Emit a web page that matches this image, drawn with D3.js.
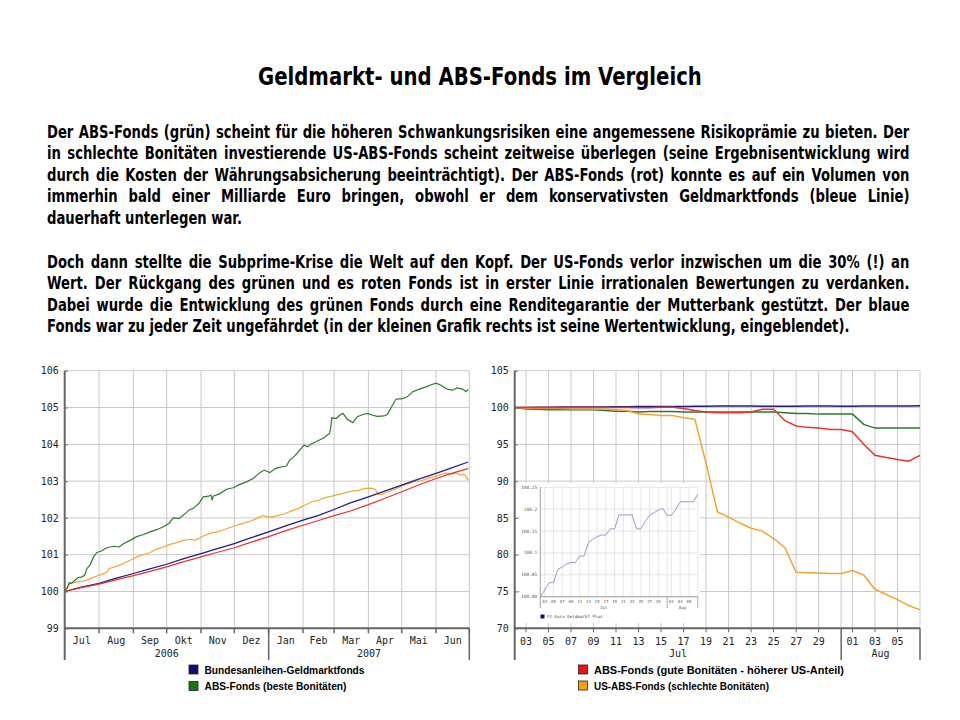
<!DOCTYPE html>
<html><head><meta charset="utf-8">
<script src="https://cdn.jsdelivr.net/npm/d3@7"></script>
<style>
body{margin:0;background:#fff;}
#wrap{position:relative;width:960px;height:720px;overflow:hidden;background:#fff;}
svg{position:absolute;left:0;top:0;}
</style></head><body><div id="wrap"></div>
<script>
// ---------------- DATA ----------------
const titleText = "Geldmarkt- und ABS-Fonds im Vergleich";
const para1 = [
"Der ABS-Fonds (grün) scheint für die höheren Schwankungsrisiken eine angemessene Risikoprämie zu bieten. Der",
"in schlechte Bonitäten investierende US-ABS-Fonds scheint zeitweise überlegen (seine Ergebnisentwicklung wird",
"durch die Kosten der Währungsabsicherung beeinträchtigt). Der ABS-Fonds (rot) konnte es auf ein Volumen von",
"immerhin bald einer Milliarde Euro bringen, obwohl er dem konservativsten Geldmarktfonds (bleue Linie)",
"dauerhaft unterlegen war."];
const para2 = [
"Doch dann stellte die Subprime-Krise die Welt auf den Kopf. Der US-Fonds verlor inzwischen um die 30% (!) an",
"Wert. Der Rückgang des grünen und es roten Fonds ist in erster Linie irrationalen Bewertungen zu verdanken.",
"Dabei wurde die Entwicklung des grünen Fonds durch eine Renditegarantie der Mutterbank gestützt. Der blaue",
"Fonds war zu jeder Zeit ungefährdet (in der kleinen Grafik rechts ist seine Wertentwicklung, eingeblendet)."];

const leftYTicks = [99,100,101,102,103,104,105,106];
const leftMonthLabels = ["Jul","Aug","Sep","Okt","Nov","Dez","Jan","Feb","Mar","Apr","Mai","Jun"];
const leftYearLabels = ["2006","2007"];

const leftBlue = [["2006-07-01",100.00],["2006-07-15",100.11],["2006-08-01",100.22],["2006-08-15",100.35],["2006-09-01",100.49],["2006-09-15",100.61],["2006-10-01",100.74],["2006-10-15",100.88],["2006-11-01",101.03],["2006-11-15",101.16],["2006-12-01",101.30],["2006-12-15",101.45],["2007-01-01",101.62],["2007-01-15",101.77],["2007-02-01",101.94],["2007-02-15",102.07],["2007-03-01",102.23],["2007-03-15",102.40],["2007-04-01",102.57],["2007-04-15",102.72],["2007-05-01",102.89],["2007-05-15",103.04],["2007-06-01",103.21],["2007-06-15",103.36],["2007-06-30",103.52]];
const leftRed = [["2006-07-01",100.00],["2006-07-15",100.10],["2006-08-01",100.20],["2006-08-15",100.31],["2006-09-01",100.43],["2006-09-15",100.54],["2006-10-01",100.67],["2006-10-15",100.80],["2006-11-01",100.94],["2006-11-15",101.06],["2006-12-01",101.19],["2006-12-15",101.33],["2007-01-01",101.49],["2007-01-15",101.64],["2007-02-01",101.80],["2007-02-15",101.93],["2007-03-01",102.06],["2007-03-15",102.18],["2007-04-01",102.36],["2007-04-15",102.52],["2007-05-01",102.71],["2007-05-15",102.88],["2007-06-01",103.07],["2007-06-15",103.21],["2007-06-30",103.34]];
const leftGreen = [["2006-07-01",100.00],["2006-07-03",100.08],["2006-07-05",100.24],["2006-07-07",100.22],["2006-07-10",100.30],["2006-07-13",100.38],["2006-07-16",100.39],["2006-07-19",100.44],["2006-07-21",100.62],["2006-07-24",100.73],["2006-07-27",100.94],["2006-07-30",101.06],["2006-08-03",101.10],["2006-08-08",101.19],["2006-08-14",101.23],["2006-08-19",101.21],["2006-08-23",101.30],["2006-08-29",101.39],["2006-09-04",101.49],["2006-09-10",101.55],["2006-09-16",101.62],["2006-09-22",101.68],["2006-09-28",101.76],["2006-10-03",101.85],["2006-10-07",102.00],["2006-10-12",101.98],["2006-10-16",102.07],["2006-10-21",102.21],["2006-10-25",102.26],["2006-10-30",102.39],["2006-11-03",102.57],["2006-11-08",102.59],["2006-11-10",102.62],["2006-11-11",102.48],["2006-11-12",102.59],["2006-11-18",102.66],["2006-11-24",102.78],["2006-11-30",102.82],["2006-12-06",102.91],["2006-12-12",102.98],["2006-12-18",103.07],["2006-12-24",103.23],["2006-12-28",103.30],["2007-01-02",103.23],["2007-01-07",103.34],["2007-01-13",103.39],["2007-01-17",103.41],["2007-01-20",103.57],["2007-01-25",103.70],["2007-01-29",103.84],["2007-02-02",103.98],["2007-02-05",103.93],["2007-02-08",104.00],["2007-02-14",104.09],["2007-02-20",104.18],["2007-02-25",104.30],["2007-02-26",104.45],["2007-02-27",104.72],["2007-03-03",104.70],["2007-03-06",104.79],["2007-03-09",104.84],["2007-03-13",104.68],["2007-03-18",104.59],["2007-03-22",104.75],["2007-03-27",104.81],["2007-03-31",104.84],["2007-04-05",104.79],["2007-04-09",104.76],["2007-04-15",104.77],["2007-04-18",104.81],["2007-04-23",105.08],["2007-04-26",105.23],["2007-05-02",105.24],["2007-05-06",105.29],["2007-05-11",105.43],["2007-05-17",105.50],["2007-05-23",105.56],["2007-05-27",105.61],["2007-06-01",105.66],["2007-06-05",105.61],["2007-06-11",105.50],["2007-06-16",105.47],["2007-06-20",105.53],["2007-06-25",105.50],["2007-06-28",105.43],["2007-06-30",105.49]];
const leftOrange = [["2006-07-01",100.00],["2006-07-06",100.22],["2006-07-12",100.26],["2006-07-18",100.28],["2006-07-24",100.35],["2006-07-30",100.42],["2006-08-03",100.46],["2006-08-08",100.53],["2006-08-10",100.62],["2006-08-17",100.69],["2006-08-23",100.76],["2006-08-29",100.85],["2006-09-04",100.94],["2006-09-10",101.00],["2006-09-16",101.06],["2006-09-22",101.15],["2006-09-28",101.21],["2006-10-04",101.28],["2006-10-10",101.33],["2006-10-16",101.39],["2006-10-23",101.42],["2006-10-27",101.39],["2006-11-03",101.51],["2006-11-09",101.58],["2006-11-15",101.62],["2006-11-21",101.67],["2006-11-27",101.74],["2006-12-03",101.80],["2006-12-09",101.85],["2006-12-15",101.91],["2006-12-21",101.98],["2006-12-27",102.07],["2006-12-31",102.03],["2007-01-05",102.03],["2007-01-10",102.07],["2007-01-16",102.12],["2007-01-22",102.19],["2007-01-28",102.26],["2007-02-03",102.35],["2007-02-09",102.44],["2007-02-15",102.48],["2007-02-21",102.55],["2007-02-27",102.59],["2007-03-05",102.64],["2007-03-11",102.68],["2007-03-17",102.73],["2007-03-23",102.75],["2007-03-29",102.80],["2007-04-03",102.81],["2007-04-07",102.78],["2007-04-10",102.64],["2007-04-13",102.64],["2007-04-19",102.71],["2007-04-25",102.78],["2007-05-01",102.87],["2007-05-07",102.93],["2007-05-13",102.99],["2007-05-19",103.01],["2007-05-25",103.08],["2007-05-31",103.13],["2007-06-06",103.18],["2007-06-10",103.22],["2007-06-14",103.18],["2007-06-19",103.22],["2007-06-23",103.16],["2007-06-26",103.19],["2007-06-28",103.14],["2007-06-30",103.02]];

const rightDates = ["2007-07-02","2007-07-03","2007-07-04","2007-07-05","2007-07-06","2007-07-07","2007-07-08","2007-07-09","2007-07-10","2007-07-11","2007-07-12","2007-07-13","2007-07-14","2007-07-15","2007-07-16","2007-07-17","2007-07-18","2007-07-19","2007-07-20","2007-07-21","2007-07-22","2007-07-23","2007-07-24","2007-07-25","2007-07-26","2007-07-27","2007-07-28","2007-07-29","2007-07-30","2007-07-31","2007-08-01","2007-08-02","2007-08-03","2007-08-04","2007-08-05","2007-08-06","2007-08-07"];
const rightBlue = [100.000,100.015,100.032,100.032,100.062,100.068,100.075,100.078,100.078,100.093,100.093,100.124,100.131,100.137,100.141,100.141,100.155,100.155,100.187,100.187,100.187,100.187,100.155,100.155,100.172,100.186,100.192,100.198,100.202,100.186,100.186,100.200,100.217,100.217,100.217,100.217,100.234];
const rightRed = [100.0,100.0,100.0,100.0,100.0,100.0,100.0,100.0,100.0,100.0,100.0,99.95,99.95,100.05,100.05,99.85,99.6,99.4,99.3,99.3,99.3,99.4,99.75,99.75,98.2,97.5,97.3,97.2,97.0,97.0,96.7,95.0,93.5,93.2,92.95,92.7,93.5];
const rightGreen = [100.0,99.8,99.75,99.7,99.7,99.7,99.7,99.7,99.6,99.5,99.5,99.4,99.45,99.45,99.45,99.4,99.4,99.4,99.4,99.4,99.4,99.4,99.4,99.4,99.3,99.2,99.2,99.1,99.1,99.1,99.1,97.7,97.2,97.2,97.2,97.2,97.2];
const rightOrange = [100.0,99.9,99.9,99.85,99.85,99.8,99.8,99.8,99.75,99.7,99.6,99.1,99.05,98.9,98.9,98.6,98.4,92.4,85.85,85.1,84.3,83.6,83.2,82.2,80.96,77.6,77.55,77.5,77.45,77.45,77.84,77.25,75.3,74.6,73.9,73.1,72.5];
const rightYTicks = [70,75,80,85,90,95,100,105];
const rightTickDates = ["2007-07-03","2007-07-05","2007-07-07","2007-07-09","2007-07-11","2007-07-13","2007-07-15","2007-07-17","2007-07-19","2007-07-21","2007-07-23","2007-07-25","2007-07-27","2007-07-29","2007-08-01","2007-08-03","2007-08-05"];
const rightTickLabels = ["03","05","07","09","11","13","15","17","19","21","23","25","27","29","01","03","05"];
const rightMonthLabels = ["Jul","Aug"];
const insetYTicks = [100.00,100.05,100.10,100.15,100.20,100.25];
const insetYLabels = ["100.00","100.05","100.1","100.15","100.2","100.25"];
const insetLegend = "FI Euro Geldmarkt Plus";

const legendLeft = [["Bundesanleihen-Geldmarktfonds","#0c0c78",160],["ABS-Fonds (beste Bonitäten)","#0f7a0f",142]];
const legendRight = [["ABS-Fonds (gute Bonitäten - höherer US-Anteil)","#ee1111",250],["US-ABS-Fonds (schlechte Bonitäten)","#ffa200",175]];

// colors
const C = {blue:"#1e1e82", green:"#2b7a2b", red:"#ee3030", orange:"#f3a530", grid:"#c9c9c9", axis:"#666"};

// ---------------- DRAW ----------------
const parse = d3.timeParse("%Y-%m-%d");
const svg = d3.select("#wrap").append("svg").attr("width",960).attr("height",720);

// ---- text ----
const TF = "DejaVu Sans";
const t = svg.append("text").attr("font-family",TF).attr("font-weight","bold").attr("font-size",25).text(titleText);
const tw = t.node().getComputedTextLength();
const ts = 444/tw;
t.attr("transform",`translate(258,84.5) scale(${ts},1)`);

const FS = 18;
function mk(str){ return svg.append("text").attr("font-family",TF).attr("font-weight","bold").attr("font-size",FS).attr("fill","#000").text(str); }
const probe = mk(para2[3]);
const sc = 803/probe.node().getComputedTextLength();
probe.remove();
function drawPara(lines, base0){
  lines.forEach((str,i)=>{
    const el = mk(str);
    const nat = el.node().getComputedTextLength();
    const last = i===lines.length-1;
    if(!last){
      const n = (str.match(/ /g)||[]).length;
      const ws = (863/sc - nat)/n;
      el.style("word-spacing", ws+"px");
    }
    el.attr("transform",`translate(47,${base0+i*21.6}) scale(${sc},1)`);
  });
}
drawPara(para1, 137.5);
drawPara(para2, 267.5);

// ---- left chart ----
const L = {x0:64.7, x1:469.3, y0:370.7, y1:628.3, yb:660};
const xL = d3.scaleTime().domain([new Date(2006,6,1), new Date(2007,6,1)]).range([L.x0,L.x1]);
const yL = d3.scaleLinear().domain([99,106]).range([L.y1,L.y0]);
const gL = svg.append("g");
const monthsL = d3.timeMonth.range(new Date(2006,6,1), new Date(2007,6,2));
gL.selectAll("line.hg").data(leftYTicks).join("line").attr("class","hg")
  .attr("x1",L.x0).attr("x2",L.x1).attr("y1",d=>yL(d)).attr("y2",d=>yL(d)).attr("stroke",C.grid);
gL.selectAll("line.vg").data(monthsL.slice(1)).join("line").attr("class","vg")
  .attr("x1",d=>xL(d)).attr("x2",d=>xL(d)).attr("y1",L.y0).attr("y2",L.y1).attr("stroke",C.grid);
gL.selectAll("line.tk").data(monthsL.slice(1)).join("line").attr("class","tk")
  .attr("x1",d=>xL(d)).attr("x2",d=>xL(d)).attr("y1",L.y1).attr("y2",L.y1+5).attr("stroke",C.axis).attr("stroke-width",1.5);
[new Date(2007,0,1), new Date(2007,6,1)].forEach(d=>{
  gL.append("line").attr("x1",xL(d)).attr("x2",xL(d)).attr("y1",L.y1).attr("y2",L.yb).attr("stroke",C.axis).attr("stroke-width",1.5);
});
const lineL = d3.line().x(d=>xL(parse(d[0]))).y(d=>yL(d[1]));
[[leftOrange,C.orange],[leftBlue,C.blue],[leftRed,C.red],[leftGreen,C.green]].forEach(([data,col])=>{
  gL.append("path").datum(data).attr("d",lineL).attr("fill","none").attr("stroke",col).attr("stroke-width",1.2);
});
gL.append("line").attr("x1",L.x0).attr("x2",L.x0).attr("y1",L.y0).attr("y2",L.yb).attr("stroke",C.axis).attr("stroke-width",2);
gL.append("line").attr("x1",L.x0).attr("x2",L.x1).attr("y1",L.y1).attr("y2",L.y1).attr("stroke",C.axis).attr("stroke-width",2);
const axL = gL.append("g").attr("transform",`translate(${L.x0},0)`)
  .call(d3.axisLeft(yL).tickValues(leftYTicks).tickSize(3).tickPadding(3).tickFormat(d3.format("d")));
axL.select(".domain").remove();
axL.selectAll(".tick line").attr("stroke",C.axis).attr("x2",3);
axL.selectAll("text").attr("font-family","DejaVu Sans Mono").attr("font-size",10).attr("fill","#222");
gL.selectAll("text.mon").data(monthsL.slice(0,12)).join("text").attr("class","mon")
  .attr("x",(d,i)=>(xL(d)+xL(monthsL[i+1]))/2).attr("y",644).attr("text-anchor","middle")
  .attr("font-family","DejaVu Sans Mono").attr("font-size",10).attr("fill","#222").text((d,i)=>leftMonthLabels[i]);
const yearsL = [[new Date(2006,6,1),new Date(2007,0,1)],[new Date(2007,0,1),new Date(2007,6,1)]];
gL.selectAll("text.yr").data(yearsL).join("text").attr("class","yr")
  .attr("x",d=>(xL(d[0])+xL(d[1]))/2).attr("y",657).attr("text-anchor","middle")
  .attr("font-family","DejaVu Sans Mono").attr("font-size",10).attr("fill","#222").text((d,i)=>leftYearLabels[i]);

// ---- right chart ----
const R = {x0:514.7, x1:920, y0:370.7, y1:628.3, yb:660};
const xR = d3.scaleTime().domain([parse(rightDates[0]), parse(rightDates[rightDates.length-1])]).range([R.x0,R.x1]);
const yR = d3.scaleLinear().domain([70,105]).range([R.y1,R.y0]);
const gR = svg.append("g");
const rTicks = rightTickDates.map(parse);
const sep = parse("2007-07-31");
gR.selectAll("line.hg").data(rightYTicks).join("line").attr("class","hg")
  .attr("x1",R.x0).attr("x2",R.x1).attr("y1",d=>yR(d)).attr("y2",d=>yR(d)).attr("stroke",C.grid);
gR.selectAll("line.vg").data(rTicks.concat([sep, xR.domain()[1]])).join("line").attr("class","vg")
  .attr("x1",d=>xR(d)).attr("x2",d=>xR(d)).attr("y1",R.y0).attr("y2",R.y1).attr("stroke",C.grid);
gR.selectAll("line.tk").data(rTicks).join("line").attr("class","tk")
  .attr("x1",d=>xR(d)).attr("x2",d=>xR(d)).attr("y1",R.y1).attr("y2",R.y1+4).attr("stroke",C.axis);
[sep, xR.domain()[1]].forEach(d=>{
  gR.append("line").attr("x1",xR(d)).attr("x2",xR(d)).attr("y1",R.y1).attr("y2",R.yb).attr("stroke",C.axis).attr("stroke-width",1.5);
});
const lineR = (vals)=>d3.line().x((d,i)=>xR(parse(rightDates[i]))).y(d=>yR(d))(vals);
[[rightBlue,C.blue],[rightGreen,C.green],[rightOrange,C.orange],[rightRed,C.red]].forEach(([vals,col])=>{
  gR.append("path").attr("d",lineR(vals)).attr("fill","none").attr("stroke",col).attr("stroke-width",1.5);
});
gR.append("line").attr("x1",R.x0).attr("x2",R.x0).attr("y1",R.y0).attr("y2",R.yb).attr("stroke",C.axis).attr("stroke-width",2);
gR.append("line").attr("x1",R.x0).attr("x2",R.x1).attr("y1",R.y1).attr("y2",R.y1).attr("stroke",C.axis).attr("stroke-width",2);
const axR = gR.append("g").attr("transform",`translate(${R.x0},0)`)
  .call(d3.axisLeft(yR).tickValues(rightYTicks).tickSize(3).tickPadding(3).tickFormat(d3.format("d")));
axR.select(".domain").remove();
axR.selectAll(".tick line").attr("stroke",C.axis).attr("x2",3);
axR.selectAll("text").attr("font-family","DejaVu Sans Mono").attr("font-size",10).attr("fill","#222");
gR.selectAll("text.day").data(rTicks).join("text").attr("class","day")
  .attr("x",d=>xR(d)).attr("y",645).attr("text-anchor","middle")
  .attr("font-family","DejaVu Sans Mono").attr("font-size",10).attr("fill","#222").text((d,i)=>rightTickLabels[i]);
const monthsR = [[xR.domain()[0],sep],[sep,xR.domain()[1]]];
gR.selectAll("text.mon").data(monthsR).join("text").attr("class","mon")
  .attr("x",d=>(xR(d[0])+xR(d[1]))/2).attr("y",657).attr("text-anchor","middle")
  .attr("font-family","DejaVu Sans Mono").attr("font-size",10).attr("fill","#222").text((d,i)=>rightMonthLabels[i]);

// ---- inset ----
const I = {bx0:520, bx1:700, by0:483, by1:623, x0:540.3, x1:697.7, y0:487.3, y1:596.7, yb:608};
const gI = svg.append("g");
gI.append("rect").attr("x",I.bx0).attr("y",I.by0).attr("width",I.bx1-I.bx0).attr("height",I.by1-I.by0).attr("fill","#fff");
const xI = d3.scaleTime().domain(xR.domain()).range([I.x0,I.x1]);
const yI = d3.scaleLinear().domain([100,100.25]).range([I.y1,I.y0]);
gI.selectAll("line.hg").data(insetYTicks).join("line").attr("class","hg")
  .attr("x1",I.x0).attr("x2",I.x1).attr("y1",d=>yI(d)).attr("y2",d=>yI(d)).attr("stroke","#dcdcdc").attr("stroke-width",0.7);
gI.selectAll("line.vg").data(rTicks.concat([sep, xI.domain()[1]])).join("line").attr("class","vg")
  .attr("x1",d=>xI(d)).attr("x2",d=>xI(d)).attr("y1",I.y0).attr("y2",I.y1).attr("stroke","#dcdcdc").attr("stroke-width",0.7);
[sep, xI.domain()[1]].forEach(d=>{
  gI.append("line").attr("x1",xI(d)).attr("x2",xI(d)).attr("y1",I.y1).attr("y2",I.yb).attr("stroke","#888").attr("stroke-width",0.7);
});
gI.append("line").attr("x1",I.x0).attr("x2",I.x0).attr("y1",I.y0).attr("y2",I.yb).attr("stroke","#888").attr("stroke-width",0.8);
gI.append("line").attr("x1",I.x0).attr("x2",I.x1).attr("y1",I.y1).attr("y2",I.y1).attr("stroke","#888").attr("stroke-width",0.8);
gI.append("path").attr("d",d3.line().x((d,i)=>xI(parse(rightDates[i]))).y(d=>yI(d))(rightBlue))
  .attr("fill","none").attr("stroke","#9a9ac8").attr("stroke-width",1);
gI.selectAll("text.yl").data(insetYTicks).join("text").attr("class","yl")
  .attr("x",I.x0-3).attr("y",d=>yI(d)+1.5).attr("text-anchor","end")
  .attr("font-family","DejaVu Sans Mono").attr("font-size",4.5).attr("fill","#555").text((d,i)=>insetYLabels[i]);
gI.selectAll("text.xl").data(rTicks).join("text").attr("class","xl")
  .attr("x",d=>xI(d)).attr("y",603).attr("text-anchor","middle")
  .attr("font-family","DejaVu Sans Mono").attr("font-size",4).attr("fill","#555").text((d,i)=>rightTickLabels[i]);
gI.selectAll("text.ml").data(monthsR).join("text").attr("class","ml")
  .attr("x",d=>(xI(d[0])+xI(d[1]))/2).attr("y",608.5).attr("text-anchor","middle")
  .attr("font-family","DejaVu Sans Mono").attr("font-size",4).attr("fill","#555").text((d,i)=>rightMonthLabels[i]);
gI.append("rect").attr("x",540.5).attr("y",614.5).attr("width",4).attr("height",4).attr("fill","#0c0c60");
gI.append("text").attr("x",547).attr("y",618.3).attr("font-family","DejaVu Sans Mono").attr("font-size",4.2).attr("fill","#444").text(insetLegend);

// ---- legends ----
function legend(items, x, ys){
  items.forEach(([label,col,w],i)=>{
    svg.append("rect").attr("x",x).attr("y",ys[i]).attr("width",9).attr("height",9)
      .attr("fill",col).attr("stroke","#222").attr("stroke-width",0.8);
    svg.append("text").attr("x",x+15.5).attr("y",ys[i]+8.5)
      .attr("font-family","Liberation Sans").attr("font-weight","bold").attr("font-size",10.5)
      .attr("textLength",w).attr("lengthAdjust","spacingAndGlyphs").attr("fill","#000").text(label);
  });
}
legend(legendLeft, 189, [665,681.5]);
legend(legendRight, 578.5, [665,681]);
</script></body></html>
